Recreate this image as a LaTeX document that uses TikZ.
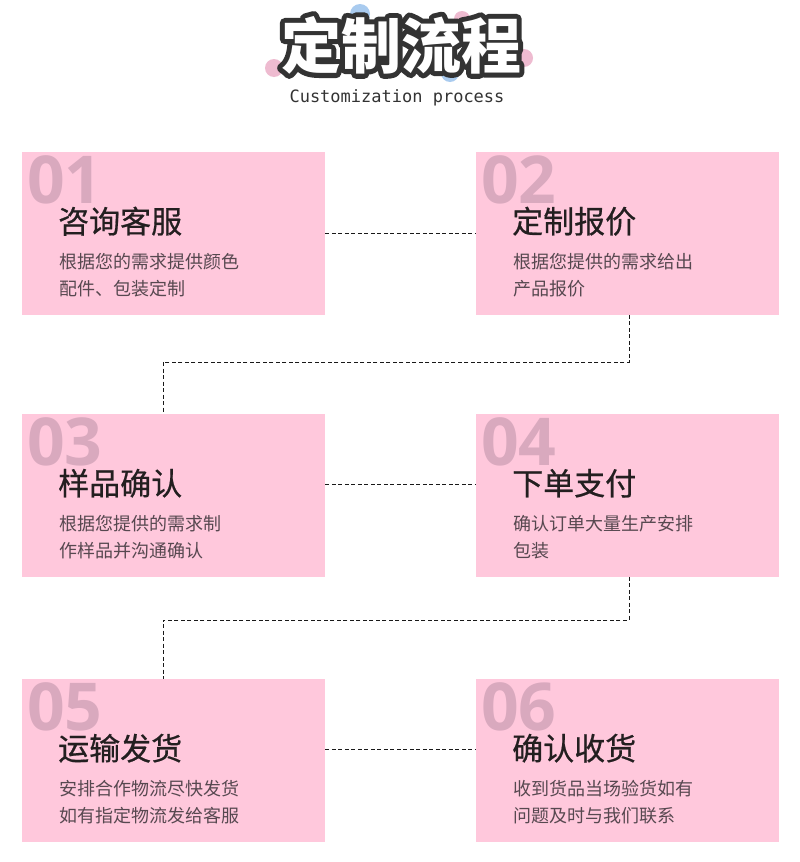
\documentclass[tikz,border=0pt]{standalone}
\usepackage{fontspec}
\newfontfamily\cjk{Noto Sans CJK SC}
\newfontfamily\cjkhead{Noto Sans CJK SC}[FakeBold=0.6]
\newfontfamily\numfont{Open Sans}
\newfontfamily\monof{DejaVu Sans Mono}
\usetikzlibrary{calc}
\definecolor{boxpink}{HTML}{FFC8DC}
\definecolor{numpink}{HTML}{D9A9BE}
\definecolor{titleink}{HTML}{231F20}
\definecolor{descink}{HTML}{574850}
\definecolor{outlineink}{HTML}{333333}
\definecolor{blobblue}{HTML}{A9CBEF}
\definecolor{blobpink}{HTML}{EEBBD0}
\newcommand\outlinestroke[1]{\special{pdf:literal direct 2 Tr 10 w 1 j 0.2 0.2 0.2 RG}#1\special{pdf:literal direct 0 Tr 0.4 w 0 j}}
\tikzset{
  stepbox/.style={fill=boxpink, draw=none, minimum width=303pt, minimum height=162.5pt, anchor=north west, inner sep=0pt},
  numtxt/.style={font=\numfont\bfseries\fontsize{66}{66}\selectfont, text=numpink, anchor=base west, inner sep=0pt},
  headtxt/.style={font=\cjkhead\fontsize{31}{31}\selectfont, text=titleink, anchor=base west, inner sep=0pt},
  desctxt/.style={font=\cjk\fontsize{18}{18}\selectfont, text=descink, anchor=base west, inner sep=0pt},
  conn/.style={draw=black!90, line width=1pt, dash pattern=on 4pt off 2.5pt},
  bigtitle/.style={font=\cjk\bfseries\fontsize{60}{60}\selectfont, inner sep=0pt, anchor=center},
  subtitle/.style={font=\monof\fontsize{17}{17}\selectfont, text=outlineink, inner sep=0pt, anchor=base},
}
\newcommand\flowstep[7]{%
  \node[stepbox] (#1) at (#2,#3) {};
  \node[numtxt] (#1n) at ($(#1.north west)+(5pt,-51pt)$) {#4};
  \node[headtxt] (#1h) at ($(#1.north west)+(36pt,-81pt)$) {#5};
  \node[desctxt] (#1a) at ($(#1.north west)+(37pt,-116pt)$) {#6};
  \node[desctxt] (#1b) at ($(#1.north west)+(37pt,-143pt)$) {#7};
}
\begin{document}
\begin{tikzpicture}[x=1pt,y=-1pt]
\useasboundingbox[fill=white] (0,0) rectangle (800,862);
% decorative blobs behind title
\fill[blobblue] (360,14) circle (10);
\fill[blobblue] (450,73) circle (9);
\fill[blobpink] (274,68) circle (9);
\fill[blobpink] (462,19) circle (8);
\fill[blobpink] (524,58) circle (9);
% title: dark outline layer, then white fill
\coordinate (T) at (401,45);
\node[bigtitle, text=outlineink] (tshadow) at (T) {\outlinestroke{定制流程}};
\node[bigtitle, text=white] (title) at (T) {定制流程};
\node[subtitle] (sub) at (397,102) {Customization process};
% steps
\flowstep{b1}{22}{152}{01}{咨询客服}{根据您的需求提供颜色}{配件、包装定制}
\flowstep{b2}{476}{152}{02}{定制报价}{根据您提供的需求给出}{产品报价}
\flowstep{b3}{22}{414}{03}{样品确认}{根据您提供的需求制}{作样品并沟通确认}
\flowstep{b4}{476}{414}{04}{下单支付}{确认订单大量生产安排}{包装}
\flowstep{b5}{22}{679}{05}{运输发货}{安排合作物流尽快发货}{如有指定物流发给客服}
\flowstep{b6}{476}{679}{06}{确认收货}{收到货品当场验货如有}{问题及时与我们联系}
% connectors
\coordinate (k1) at (163,362);
\coordinate (k2) at (163,620);
\draw[conn] (b1.east) -- (b2.west);
\draw[conn] ($(b2.south)+(1.5pt,0)$) |- (k1) -- (k1 |- b3.north);
\draw[conn] ($(b3.north east)+(0,-70pt)$) -- ($(b4.north west)+(0,-70pt)$);
\draw[conn] ($(b4.south)+(1.5pt,0)$) |- (k2) -- (k2 |- b5.north);
\draw[conn] ($(b5.north east)+(0,-70pt)$) -- ($(b6.north west)+(0,-70pt)$);
\end{tikzpicture}
\end{document}
